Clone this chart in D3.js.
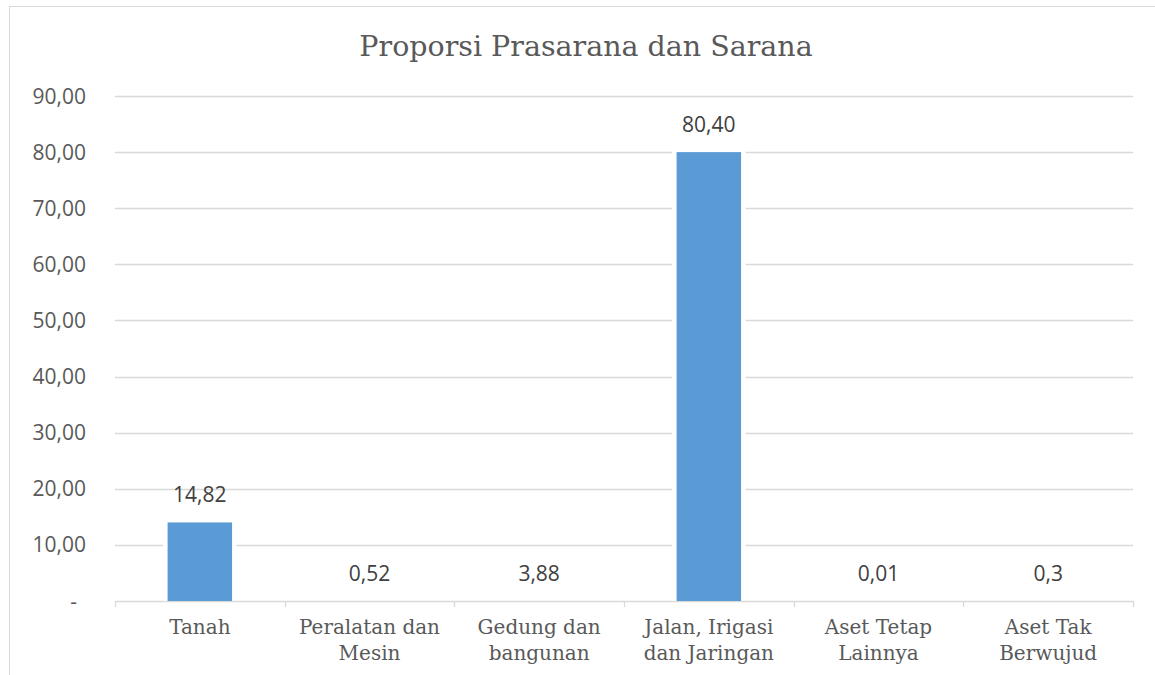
<!DOCTYPE html>
<html>
<head>
<meta charset="utf-8">
<script src="https://cdn.jsdelivr.net/npm/d3@7"></script>
<style>
  body { margin: 0; background: #fff; }
  svg { display: block; }
</style>
</head>
<body>
<div id="chart"></div>
<script>
// categories (two-line labels as shown under the axis)
const categories = ["Tanah", "Peralatan dan Mesin", "Gedung dan bangunan", "Jalan, Irigasi dan Jaringan", "Aset Tetap Lainnya", "Aset Tak Berwujud"];
const categoryLines = [["Tanah"], ["Peralatan dan", "Mesin"], ["Gedung dan", "bangunan"], ["Jalan, Irigasi", "dan Jaringan"], ["Aset Tetap", "Lainnya"], ["Aset Tak", "Berwujud"]];
// bar heights as drawn in the picture
const barValues = [14, 0, 0, 80, 0, 0];
// data labels as printed
const valueLabels = ["14,82", "0,52", "3,88", "80,40", "0,01", "0,3"];
const yTicks = [0, 10, 20, 30, 40, 50, 60, 70, 80, 90];
const yTickLabels = ["-", "10,00", "20,00", "30,00", "40,00", "50,00", "60,00", "70,00", "80,00", "90,00"];

const W = 1155, H = 675;
const margin = { top: 96, right: 22, bottom: 74, left: 115 };
const width = W - margin.left - margin.right,
      height = H - margin.top - margin.bottom;

const sans = "Open Sans, Liberation Sans, sans-serif";
const serif = "DejaVu Serif, serif";

const svg = d3.select("#chart").append("svg")
    .attr("width", W)
    .attr("height", H);

// chart frame
svg.append("rect")
    .attr("x", 9.5).attr("y", 6.5)
    .attr("width", 1160).attr("height", 680)
    .attr("fill", "#fff")
    .attr("stroke", "#d9d9d9");

svg.append("text")
    .attr("x", 586).attr("y", 56)
    .attr("text-anchor", "middle")
    .attr("font-family", serif)
    .attr("font-size", 28.5)
    .attr("fill", "#595959")
    .text("Proporsi Prasarana dan Sarana");

const g = svg.append("g").attr("transform", `translate(${margin.left},${margin.top})`);

const x = d3.scaleBand().domain(categories).range([0, width]).paddingInner(0.62).paddingOuter(0.31);
const y = d3.scaleLinear().domain([0, 90]).range([height, 0]);

// gridlines
g.selectAll(".grid")
    .data(yTicks.filter(d => d > 0))
    .join("line")
    .attr("x1", 0).attr("x2", width)
    .attr("y1", d => Math.round(y(d)) + 0.5).attr("y2", d => Math.round(y(d)) + 0.5)
    .attr("stroke", "#d9d9d9")
    .attr("stroke-width", 1.3);

// y labels
g.selectAll(".ylab")
    .data(yTicks)
    .join("text")
    .attr("x", d => d === 0 ? -38 : -29)
    .attr("y", d => y(d) + 7.5)
    .attr("text-anchor", "end")
    .attr("font-family", sans)
    .attr("font-size", 21)
    .attr("fill", "#595959")
    .text((d, i) => yTickLabels[i]);

// x axis line + ticks at band edges
g.append("line")
    .attr("x1", 0).attr("x2", width)
    .attr("y1", height + 0.5).attr("y2", height + 0.5)
    .attr("stroke", "#d9d9d9").attr("stroke-width", 1.3);

const edges = d3.range(categories.length + 1).map(i => i * width / categories.length);
g.selectAll(".tick")
    .data(edges)
    .join("line")
    .attr("x1", d => Math.round(d) + 0.5).attr("x2", d => Math.round(d) + 0.5)
    .attr("y1", height).attr("y2", height + 6)
    .attr("stroke", "#d9d9d9").attr("stroke-width", 1.3);

// white halo behind bars (breaks the gridlines)
g.selectAll(".halo")
    .data(barValues.filter(d => d > 0).map(d => ({ v: d, i: barValues.indexOf(d) })))
    .join("rect")
    .attr("x", d => x(categories[d.i]) - 4.5)
    .attr("y", d => y(d.v) - 4.5)
    .attr("width", x.bandwidth() + 9)
    .attr("height", d => height - y(d.v) + 4)
    .attr("fill", "#fff");

// bars
g.selectAll(".bar")
    .data(barValues)
    .join("rect")
    .attr("x", (d, i) => x(categories[i]))
    .attr("y", d => y(d))
    .attr("width", x.bandwidth())
    .attr("height", d => height - y(d))
    .attr("fill", "#5b9bd5");

// value labels
g.selectAll(".vlab")
    .data(barValues)
    .join("text")
    .attr("x", (d, i) => x(categories[i]) + x.bandwidth() / 2)
    .attr("y", d => y(d) - 20)
    .attr("text-anchor", "middle")
    .attr("font-family", sans)
    .attr("font-size", 21)
    .attr("fill", "#404040")
    .text((d, i) => valueLabels[i]);

// category labels
const cl = g.selectAll(".clab")
    .data(categoryLines)
    .join("text")
    .attr("text-anchor", "middle")
    .attr("font-family", serif)
    .attr("font-size", 20)
    .attr("fill", "#595959");
cl.selectAll("tspan")
    .data((d, i) => d.map(t => ({ t, i })))
    .join("tspan")
    .attr("x", d => x(categories[d.i]) + x.bandwidth() / 2)
    .attr("y", (d, j) => height + 33 + j * 26)
    .text(d => d.t);
</script>
</body>
</html>
